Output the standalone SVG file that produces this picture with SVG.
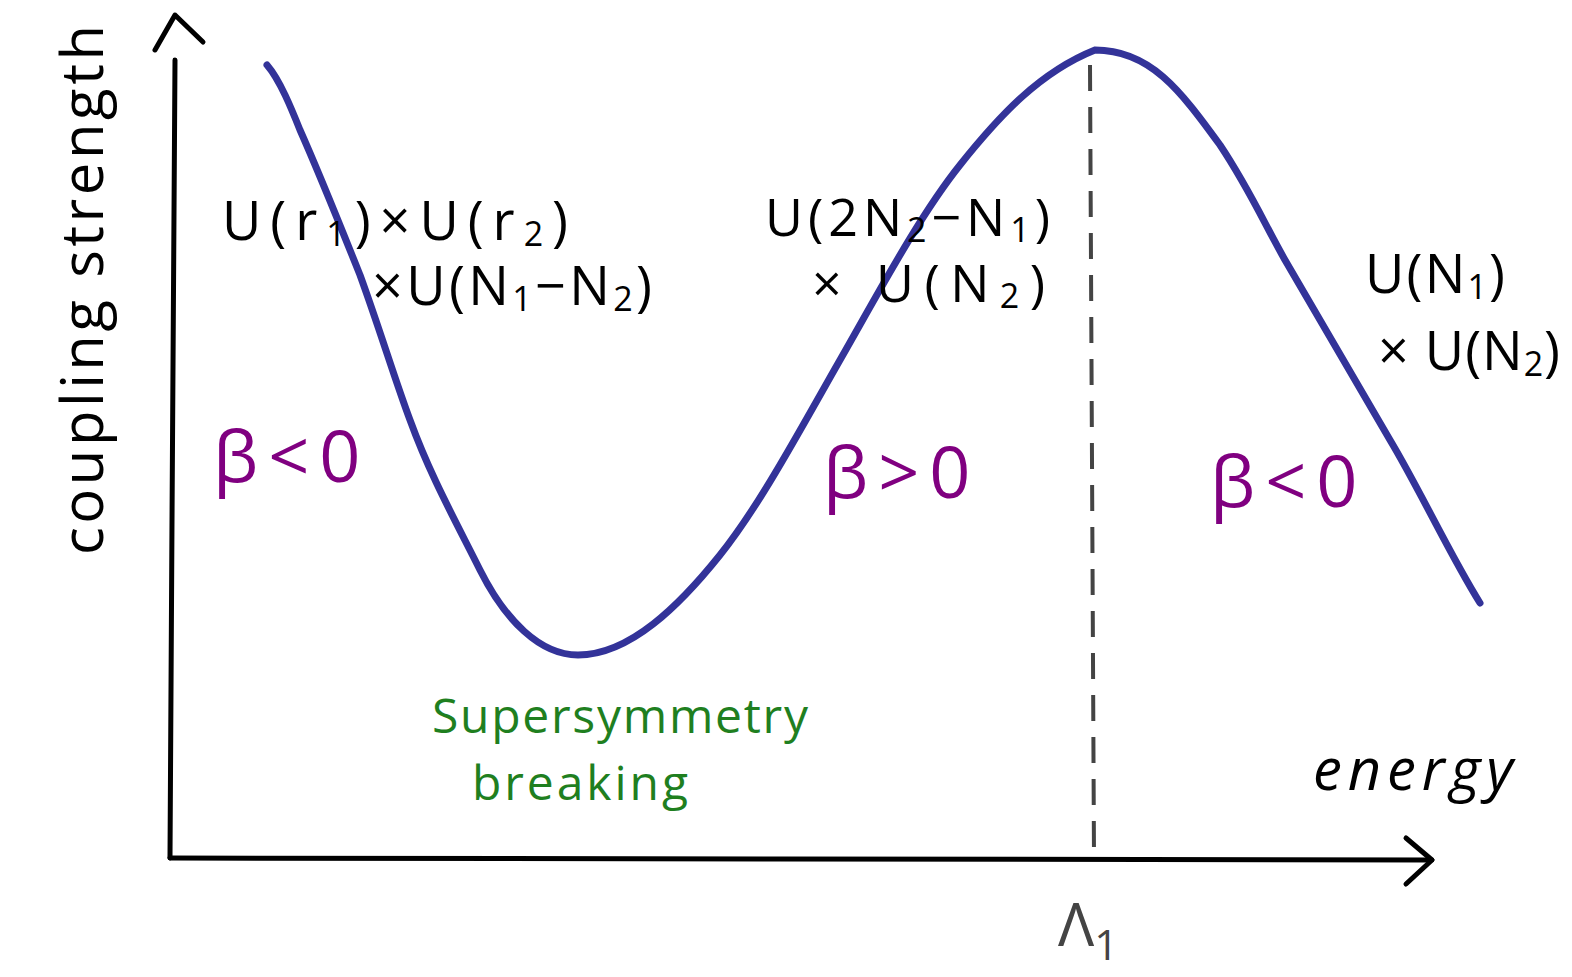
<svg xmlns="http://www.w3.org/2000/svg" width="1572" height="977" viewBox="0 0 1572 977">
<style>
.ax{fill:none;stroke:#000;stroke-width:5;stroke-linecap:round;stroke-linejoin:round}
.curve{fill:none;stroke:#333399;stroke-width:7;stroke-linecap:round}
.dash{fill:none;stroke:#444;stroke-width:4;stroke-dasharray:26 16}
.bk{font-family:"Open Sans","DejaVu Sans",sans-serif;fill:#000}
.pu{font-family:"Open Sans","DejaVu Sans",sans-serif;fill:#800080;font-size:72px}
.gr{font-family:"Open Sans","DejaVu Sans",sans-serif;fill:#1f7f1f;font-size:48px}
.sb{font-size:34px}
</style>
<rect width="1572" height="977" fill="#fff"/>
<g id="axes">
<path class="ax" d="M175,60 C174,300 171,600 170,858"/>
<path class="ax" d="M155,50 L175,15 L203,42"/>
<path class="ax" d="M170,858 C600,858 1000,860 1432,860"/>
<path class="ax" d="M1406,838 L1432,860 L1406,884"/>
</g>
<g id="connectors">
<path class="dash" d="M1090,65 L1094,858"/>
<path class="curve" d="M267,65 C280,80 292,110 300,130 C320,175 340,225 360,275 C380,330 395,380 410,420 C430,475 455,520 480,570 C505,620 540,655 578,655 C630,655 680,605 720,555 C760,505 800,430 840,360 C880,290 920,215 960,165 C1000,115 1040,72 1095,50 C1150,50 1180,90 1220,145 C1250,190 1265,225 1285,260 C1320,320 1355,380 1390,440 C1420,490 1450,555 1480,603"/>
</g>
<g id="ylabel">
<text class="bk" font-size="58" textLength="530" lengthAdjust="spacing" transform="translate(103,555) rotate(-90)">coupling strength</text>
</g>
<g id="xlabel">
<text class="bk" font-size="58" font-style="italic" textLength="200" lengthAdjust="spacing" x="1313" y="790">energy</text>
</g>
<g id="lambda">
<text x="1058" y="946" font-family="Open Sans,DejaVu Sans,sans-serif" font-size="60" fill="#444">Λ<tspan font-size="42" dy="14">1</tspan></text>
</g>
<g id="label-left">
<text class="bk" font-size="54" textLength="346" lengthAdjust="spacing" x="222" y="240">U(r<tspan class="sb" dy="6">1</tspan><tspan dy="-6">)×U(r</tspan><tspan class="sb" dy="6">2</tspan><tspan dy="-6">)</tspan></text>
<text class="bk" font-size="54" textLength="280" lengthAdjust="spacing" x="372" y="305">×U(N<tspan class="sb" dy="6">1</tspan><tspan dy="-6">−N</tspan><tspan class="sb" dy="6">2</tspan><tspan dy="-6">)</tspan></text>
</g>
<g id="label-mid">
<text class="bk" font-size="52" textLength="285" lengthAdjust="spacing" x="765" y="236">U(2N<tspan class="sb" dy="6">2</tspan><tspan dy="-6">−N</tspan><tspan class="sb" dy="6">1</tspan><tspan dy="-6">)</tspan></text>
<text class="bk" font-size="52" textLength="233" lengthAdjust="spacing" x="812" y="302">× U(N<tspan class="sb" dy="6">2</tspan><tspan dy="-6">)</tspan></text>
</g>
<g id="label-right">
<text class="bk" font-size="54" textLength="140" lengthAdjust="spacing" x="1365" y="293">U(N<tspan class="sb" dy="6">1</tspan><tspan dy="-6">)</tspan></text>
<text class="bk" font-size="54" textLength="182" lengthAdjust="spacing" x="1378" y="370">× U(N<tspan class="sb" dy="6">2</tspan><tspan dy="-6">)</tspan></text>
</g>
<g id="beta1"><text class="pu" x="213" y="482" letter-spacing="10">β&lt;0</text></g>
<g id="beta2"><text class="pu" x="823" y="498" letter-spacing="10">β&gt;0</text></g>
<g id="beta3"><text class="pu" x="1210" y="507" letter-spacing="10">β&lt;0</text></g>
<g id="susy">
<text class="gr" x="432" y="733" textLength="376" lengthAdjust="spacing">Supersymmetry</text>
<text class="gr" x="472" y="800" textLength="216" lengthAdjust="spacing">breaking</text>
</g>
</svg>
